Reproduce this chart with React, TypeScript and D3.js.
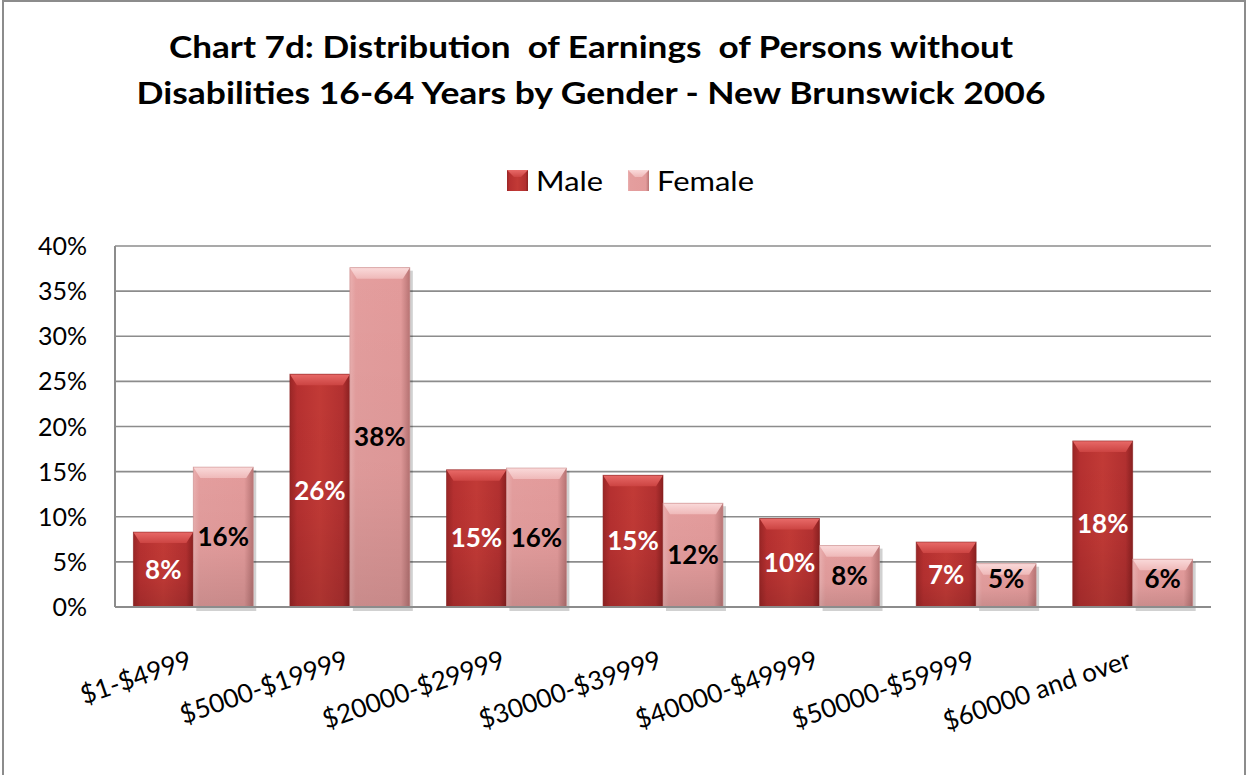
import React from "react";
import * as d3 from "d3";

const categories = ["$1-$4999", "$5000-$19999", "$20000-$29999", "$30000-$39999", "$40000-$49999", "$50000-$59999", "$60000 and over"];
const series = ["Male", "Female"];
const maleValues = [8.3, 25.8, 15.2, 14.6, 9.8, 7.2, 18.4];
const femaleValues = [15.5, 37.6, 15.4, 11.5, 6.8, 4.8, 5.3];
const maleLabels = ["8%", "26%", "15%", "15%", "10%", "7%", "18%"];
const femaleLabels = ["16%", "38%", "16%", "12%", "8%", "5%", "6%"];
const yTicks = [0, 5, 10, 15, 20, 25, 30, 35, 40];
const titleLines = ["Chart 7d: Distribution  of Earnings  of Persons without", "Disabilities 16-64 Years by Gender - New Brunswick 2006"];

const FONT = "Lato, 'Open Sans', sans-serif";

export default function App() {
  const W = 1246, H = 775;
  const left = 115, right = 1211, top = 246, bottom = 607;
  const x = d3.scaleBand<string>().domain(categories).range([left, right]).paddingInner(0.234).paddingOuter(0.117);
  const xs = d3.scaleBand<string>().domain(series).range([0, x.bandwidth()]);
  const y = d3.scaleLinear().domain([0, 40]).range([bottom, top]);

  const bar = (cx: number, w: number, v: number, kind: "m" | "f", key: string) => {
    const y0 = y(v), h = bottom - y0;
    const bev = Math.min(11, h / 3);
    const topPts = `${cx},${y0} ${cx + w},${y0} ${cx + w - 7},${y0 + bev} ${cx + 7},${y0 + bev}`;
    const m = kind === "m";
    return (
      <g key={key}>
        {!m && <rect x={cx + 3} y={y0 + 3} width={w} height={h + 1} fill="#000" opacity={0.18} />}
        <rect x={cx} y={y0} width={w} height={h} fill={`url(#${m ? "gm" : "gf"})`} />
        <rect x={cx} y={y0} width={w} height={h} fill="url(#shade)" />
        <polygon points={topPts} fill={`url(#${m ? "tm" : "tf"})`} />
        <rect x={cx} y={y0} width={w} height={h} fill="none" stroke={m ? "#8a2222" : "#c88888"} strokeWidth={0.8} opacity={0.7} />
      </g>
    );
  };

  const titleW = [844, 909];
  const legendW = [67, 97];

  return (
    <svg width={W} height={H} style={{ position: "absolute", left: 0, top: 0, background: "#fff" }}>
      <defs>
        <linearGradient id="gm" x1="0" x2="1" y1="0" y2="0">
          <stop offset="0" stopColor="#9a2626" />
          <stop offset="0.12" stopColor="#b63030" />
          <stop offset="0.5" stopColor="#c23a36" />
          <stop offset="0.88" stopColor="#b23030" />
          <stop offset="1" stopColor="#8a2020" />
        </linearGradient>
        <linearGradient id="gf" x1="0" x2="1" y1="0" y2="0">
          <stop offset="0" stopColor="#eab0b0" />
          <stop offset="0.1" stopColor="#e49e9e" />
          <stop offset="0.85" stopColor="#e39b9b" />
          <stop offset="1" stopColor="#b87474" />
        </linearGradient>
        <linearGradient id="shade" x1="0" x2="0" y1="0" y2="1">
          <stop offset="0" stopColor="#000" stopOpacity={0} />
          <stop offset="0.6" stopColor="#000" stopOpacity={0.03} />
          <stop offset="1" stopColor="#000" stopOpacity={0.12} />
        </linearGradient>
        <linearGradient id="tm" x1="0" x2="0" y1="0" y2="1">
          <stop offset="0" stopColor="#e86a68" />
          <stop offset="1" stopColor="#cc4442" />
        </linearGradient>
        <linearGradient id="tf" x1="0" x2="0" y1="0" y2="1">
          <stop offset="0" stopColor="#fadada" />
          <stop offset="1" stopColor="#efb9b9" />
        </linearGradient>
      </defs>
      <rect x={3} y={1} width={1242} height={H + 5} fill="none" stroke="#8c8c8c" strokeWidth={2} />

      {titleLines.map((t, i) => (
        <text key={t} x={591} y={58 + i * 46} textAnchor="middle" fontFamily={FONT} fontWeight={700} fontSize={30}
          textLength={titleW[i]} lengthAdjust="spacingAndGlyphs" fill="#000" style={{ whiteSpace: "pre" }}>{t}</text>
      ))}

      {series.map((s, i) => {
        const lx = i === 0 ? 507 : 628;
        return (
          <g key={s}>
            <rect x={lx} y={170} width={21} height={21} fill={i === 0 ? "url(#gm)" : "url(#gf)"} />
            <polygon points={`${lx},170 ${lx + 21},170 ${lx + 14},177 ${lx + 7},177`} fill={i === 0 ? "url(#tm)" : "url(#tf)"} />
            <text x={lx + 29} y={191} fontFamily={FONT} fontSize={27} textLength={legendW[i]} lengthAdjust="spacingAndGlyphs" fill="#000">{s}</text>
          </g>
        );
      })}

      {yTicks.map(t => (
        <g key={t}>
          <line x1={left} x2={right} y1={y(t)} y2={y(t)} stroke="#8c8c8c" strokeWidth={1.6} />
          <text x={87} y={y(t) + 9} textAnchor="end" fontFamily={FONT} fontSize={25} fill="#000">{t}%</text>
        </g>
      ))}
      <line x1={left} x2={left} y1={top} y2={bottom} stroke="#8c8c8c" strokeWidth={2} />

      {categories.map((c, i) => {
        const gx = x(c)!;
        const w = xs.bandwidth();
        return (
          <g key={c}>
            {bar(gx + xs("Male")!, w, maleValues[i], "m", "m")}
            {bar(gx + xs("Female")!, w, femaleValues[i], "f", "f")}
          </g>
        );
      })}
      <line x1={left} x2={right} y1={bottom} y2={bottom} stroke="#8c8c8c" strokeWidth={2} />

      {categories.map((c, i) => {
        const gx = x(c)!;
        const w = xs.bandwidth();
        const mx = gx + xs("Male")! + w / 2;
        const fx = gx + xs("Female")! + w / 2;
        const my = (y(maleValues[i]) + bottom) / 2;
        const fy = (y(femaleValues[i]) + bottom) / 2;
        return (
          <g key={c} fontFamily={FONT} fontWeight={700} fontSize={26}>
            <text x={mx} y={my + 9} textAnchor="middle" fill="#fff">{maleLabels[i]}</text>
            <text x={fx} y={Math.min(fy, 579) + 9} textAnchor="middle" fill="#000">{femaleLabels[i]}</text>
          </g>
        );
      })}

      {categories.map(c => {
        const cx = x(c)! + x.bandwidth() / 2;
        return (
          <text key={c} x={0} y={0} transform={`translate(${cx},${667}) rotate(-19)`} textAnchor="end" fontFamily={FONT} fontSize={26} fill="#000">{c}</text>
        );
      })}
    </svg>
  );
}
